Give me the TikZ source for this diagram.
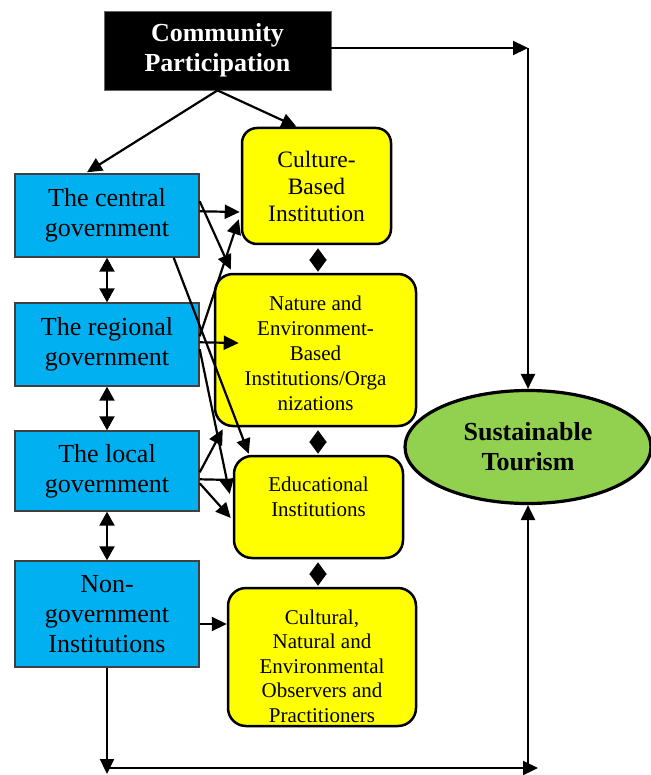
\documentclass[tikz,border=0pt]{standalone}
\usepackage{fontspec}
\setmainfont{Liberation Serif}
\usetikzlibrary{arrows.meta,shapes.geometric,calc}
\definecolor{cpblue}{HTML}{00B0F0}
\definecolor{cpyellow}{HTML}{FFFF00}
\definecolor{cpgreen}{HTML}{92D050}
\begin{document}
\begin{tikzpicture}[x=1pt,y=-1pt,
  govbox/.style={draw=black!75, line width=1.4pt, fill=cpblue, minimum width=184pt, inner sep=0pt, align=center, font=\fontsize{26}{30}\selectfont},
  instbox/.style={draw=black, line width=2.5pt, fill=cpyellow, rounded corners=18pt, inner sep=0pt},
  insttext/.style={align=center, inner sep=0pt, font=\fontsize{21}{24.5}\selectfont},
  arr/.style={line width=2.2pt, -{Triangle[length=15pt,width=14pt]}},
  dbl/.style={line width=2.2pt, {Triangle[length=14pt,width=15pt]}-{Triangle[length=14pt,width=15pt]}},
  dia/.style={line width=2pt, {Triangle[length=12pt,width=17pt]}-{Triangle[length=12pt,width=17pt]}, shorten <=3pt, shorten >=1pt},
  plain/.style={line width=2.2pt}]
\useasboundingbox (0,0) rectangle (650,775);

% top box
\node[draw=black!60, line width=0.8pt, fill=black, text=white, minimum width=227pt, minimum height=79pt, inner sep=0pt, align=center, font=\fontsize{26}{30}\selectfont\bfseries] (cp) at (217.5,50.5) {Community\\Participation};

% government boxes
\node[govbox, minimum height=83pt] (cg) at (107,215.5) {The central\\government};
\node[govbox, minimum height=83pt] (rg) at (107,344.5) {The regional\\government};
\node[govbox, minimum height=80pt] (lg) at (107,471) {The local\\government};
\node[govbox, minimum height=106pt] (ng) at (107,614) {Non-\\government\\Institutions};

% institution boxes
\node[instbox, rounded corners=15pt, minimum width=149pt, minimum height=116pt] (cb) at (316.5,186) {};
\node[insttext, font=\fontsize{23.5}{27}\selectfont] (cbt) at (316.5,186) {Culture-\\Based\\Institution};
\node[instbox, minimum width=201pt, minimum height=152pt] (nb) at (315.5,350) {};
\node[insttext, font=\fontsize{21}{25}\selectfont] (nbt) at (315.5,353) {Nature and\\Environment-\\Based\\Institutions/Orga\\nizations};
\node[instbox, minimum width=169pt, minimum height=102pt] (eb) at (318.5,507) {};
\node[insttext, font=\fontsize{21}{25}\selectfont] (ebt) at (318.5,496.5) {Educational\\Institutions};
\node[instbox, minimum width=188pt, minimum height=138pt] (ob) at (322,657) {};
\node[insttext] (obt) at (322,666) {Cultural,\\Natural and\\Environmental\\Observers and\\Practitioners};

% ellipse
\node[ellipse, draw=black, line width=3.2pt, fill=cpgreen, minimum width=246pt, minimum height=113pt, inner sep=0pt, align=center, font=\fontsize{26}{30}\selectfont\bfseries] (st) at (528,447) {Sustainable\\Tourism};

\coordinate (tr) at (528,48);
\coordinate (bl) at (107,768);
\coordinate (br) at (528,768);

% community participation connectors
\draw[arr] ($(cp.east)+(0,-2.5)$) -- (tr);
\draw[arr] (tr) -- (st.north);
\draw[arr] (cp.south) -- ($(cg.north)+(-20,-1)$);
\draw[arr] (cp.south) -- ($(cb.north)+(-20,0)$);

% central government
\draw[arr] ($(cg.north east)+(0,38)$) -- ($(cb.west)+(-1,26)$);
\draw[arr] ($(cg.north east)+(0,28)$) -- ($(nb.north west)+(17,-3)$);
\draw[arr] ($(cg.south east)+(-26,0)$) -- ($(eb.north west)+(16,-1)$);

% regional government
\draw[arr] ($(rg.north east)+(0,40)$) -- ($(nb.west)+(25,-7)$);
\draw[arr] ($(rg.north east)+(0,34)$) -- ($(cb.south west)+(-2,-26)$);
\draw[arr] ($(rg.north east)+(0,47)$) -- ($(eb.west)+(-3,-13)$);

% local government
\draw[arr] ($(lg.north east)+(0,42)$) -- ($(nb.south west)+(9,2)$);
\draw[plain] ($(lg.north east)+(0,49)$) -- ($(eb.west)+(0,-27)$);
\draw[arr] ($(lg.north east)+(0,53)$) -- ($(eb.west)+(-2,11)$);

% non-government
\draw[arr] ($(ng.east)+(0,10)$) -- ($(ob.west)+(0,-33)$);

% vertical double arrows
\draw[dbl] (cg.south) -- (rg.north);
\draw[dbl] (rg.south) -- (lg.north);
\draw[dbl] (lg.south) -- (ng.north);

% diamond connectors
\draw[dia] ($(cb.south)+(1.5,0)$) -- ($(nb.north)+(2.5,0)$);
\draw[dia] ($(nb.south)+(2.5,0)$) -- ($(eb.north)+(-0.5,0)$);
\draw[dia] ($(eb.south)+(-0.5,0)$) -- ($(ob.north)+(-4,0)$);

% bottom loop
\draw[arr] (ng.south) -- ($(bl)+(0,6)$);
\draw[arr] (bl) -- ($(br)+(10,0)$);
\draw[arr] (br) -- (st.south);
\end{tikzpicture}
\end{document}
